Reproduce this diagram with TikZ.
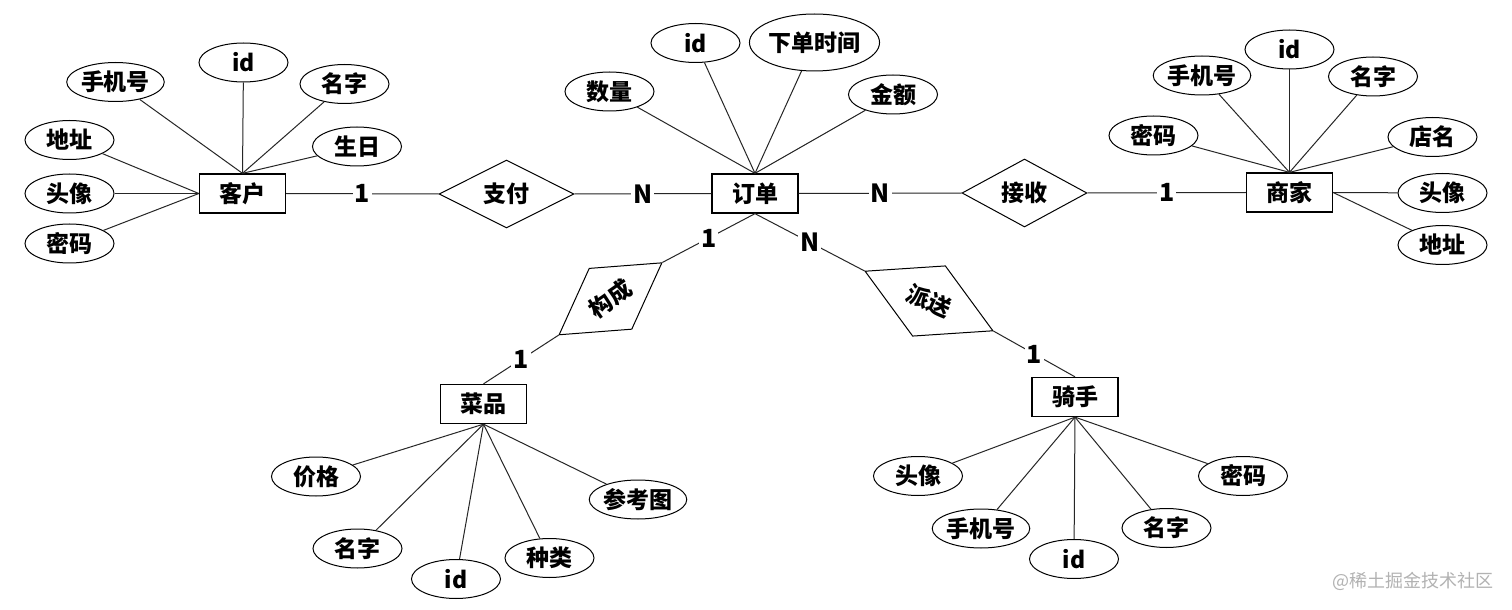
\documentclass[tikz,border=0pt]{standalone}
\usepackage{fontspec}
\setmainfont{Noto Sans CJK SC}
\usetikzlibrary{shapes.geometric}
\begin{document}
\begin{tikzpicture}[x=0.5pt,y=-0.5pt,
  lbl/.style={font=\bfseries\fontsize{11.5}{13}\selectfont},
  attr/.style={lbl,ellipse,draw,line width=0.5pt,minimum width=44.5pt,minimum height=19.5pt,inner sep=0pt},
  ent/.style={lbl,rectangle,draw,line width=0.65pt,minimum width=43pt,minimum height=19.5pt,inner sep=0pt},
  rel/.style={lbl,diamond,draw,line width=0.5pt,inner sep=0pt},
  card/.style={font=\bfseries\fontsize{12.5}{14}\selectfont,fill=white,inner sep=1pt},
  link/.style={line width=0.5pt,draw=black!85}]
\fill[white] (0,0) rectangle (1512,610);
\useasboundingbox (0,0) rectangle (1512,610);

% entities
\node[ent] (kehu) at (242.5,193.5) {客户};
\node[ent] (dingdan) at (755,193.5) {订单};
\node[ent] (shangjia) at (1289.5,192.5) {商家};
\node[ent] (caipin) at (483.5,404) {菜品};
\node[ent] (qishou) at (1075,397) {骑手};

% relationships
\node[rel,minimum width=67.5pt,minimum height=31pt] (zhifu) at (506.5,194) {支付};
\node[rel,minimum width=62.5pt,minimum height=29pt] (jieshou) at (1024.5,193) {接收};
\node[rel,minimum width=62.9pt,minimum height=37.3pt,rotate=35] (goucheng) at (610.5,298.8) {构成};
\node[rel,minimum width=70.7pt,minimum height=38.9pt,rotate=-25] (paisong) at (929,301) {派送};

% customer attributes
\node[attr] (k_id) at (243.5,62.5) {id};
\node[attr] (k_tel) at (115.5,82) {手机号};
\node[attr] (k_name) at (344.5,84) {名字};
\node[attr] (k_bday) at (357,146.5) {生日};
\node[attr] (k_addr) at (69.5,140) {地址};
\node[attr] (k_avatar) at (69.5,193.5) {头像};
\node[attr] (k_pwd) at (69.5,243.5) {密码};

% order attributes
\node[attr] (d_qty) at (609.5,91.5) {数量};
\node[attr] (d_id) at (695.5,43) {id};
\node[attr,minimum width=59.5pt,minimum height=28.5pt] (d_time) at (814.5,42.5) {下单时间};
\node[attr] (d_amt) at (893,94.5) {金额};

% merchant attributes
\node[attr] (s_id) at (1289.5,49.5) {id};
\node[attr] (s_tel) at (1202,75.5) {手机号};
\node[attr] (s_name) at (1373,76.5) {名字};
\node[attr] (s_pwd) at (1153.5,135.5) {密码};
\node[attr] (s_shop) at (1432.5,137) {店名};
\node[attr] (s_avatar) at (1442.5,193) {头像};
\node[attr] (s_addr) at (1442.5,245) {地址};

% dish attributes
\node[attr] (c_price) at (316,476.5) {价格};
\node[attr] (c_name) at (357.5,548.5) {名字};
\node[attr] (c_id) at (456,579) {id};
\node[attr] (c_kind) at (549.5,558) {种类};
\node[attr] (c_pic) at (638,499.5) {参考图};

% rider attributes
\node[attr] (q_avatar) at (918,476) {头像};
\node[attr] (q_tel) at (981,528.5) {手机号};
\node[attr] (q_id) at (1074,559) {id};
\node[attr] (q_name) at (1166.5,528) {名字};
\node[attr] (q_pwd) at (1243,476) {密码};

% attribute links
\foreach \a in {k_id,k_tel,k_name,k_bday} \draw[link] (\a) -- (kehu.north);
\foreach \a in {k_addr,k_avatar,k_pwd} \draw[link] (\a) -- (kehu.west);
\foreach \a in {d_qty,d_id,d_time,d_amt} \draw[link] (\a) -- (dingdan.north);
\foreach \a in {s_id,s_tel,s_name,s_pwd,s_shop} \draw[link] (\a) -- (shangjia.north);
\foreach \a in {s_avatar,s_addr} \draw[link] (\a) -- (shangjia.east);
\foreach \a in {c_price,c_name,c_id,c_kind,c_pic} \draw[link] (\a) -- (caipin.south);
\foreach \a in {q_avatar,q_tel,q_id,q_name,q_pwd} \draw[link] (\a) -- (qishou.south);

% relationship links
\draw[link] (kehu.east) -- node[card]{1} (zhifu.west);
\draw[link] (zhifu.east) -- node[card]{N} (dingdan.west);
\draw[link] (dingdan.east) -- node[card]{N} (jieshou.west);
\draw[link] (jieshou.east) -- node[card]{1} (shangjia.west);
\draw[link] (dingdan.south) -- node[card]{1} (goucheng.east);
\draw[link] (goucheng.west) -- node[card]{1} (caipin.north);
\draw[link] (dingdan.south) -- node[card]{N} (paisong.west);
\draw[link] (paisong.east) -- node[card]{1} (qishou.north);

% watermark
\node[text=black!30,font=\fontsize{9}{11}\selectfont,inner sep=0pt] (wm) at (1413,581) {@稀土掘金技术社区};
\end{tikzpicture}
\end{document}
